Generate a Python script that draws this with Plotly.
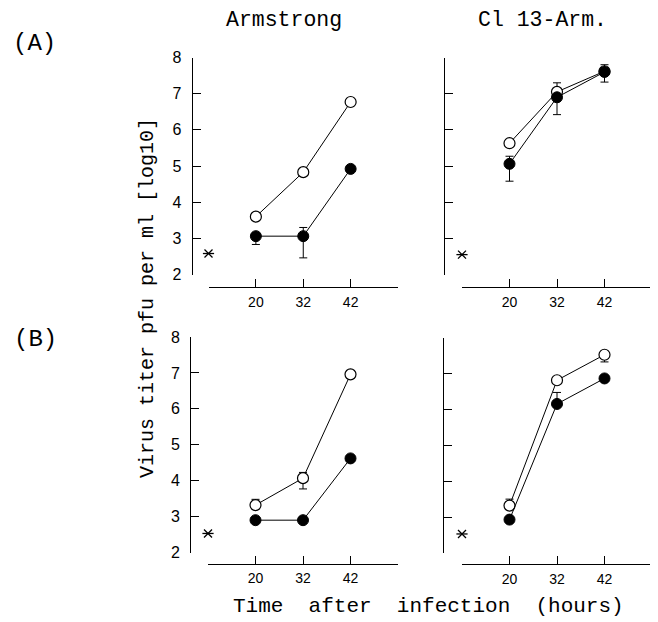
import plotly.graph_objects as go

# page offset of the plot inside the browser window (default body margin)
OFF = 8
W, H = 658 - OFF, 622 - OFF

# ---------------- data ----------------
hours = [20, 32, 42]
tick_labels = ["", "20", "32", "42", ""]

# (A) Armstrong
a_arm_open = [3.60, 4.83, 6.77]
a_arm_open_up = [0, 0, 0]
a_arm_open_dn = [0, 0, 0]
a_arm_fill = [3.06, 3.06, 4.92]
a_arm_fill_up = [0, 0.24, 0]
a_arm_fill_dn = [0.23, 0.60, 0]

# (A) Cl 13-Arm.
a_cl_open = [5.63, 7.05, 7.62]
a_cl_open_up = [0, 0.25, 0]
a_cl_open_dn = [0, 0, 0]
a_cl_fill = [5.06, 6.90, 7.60]
a_cl_fill_up = [0.21, 0, 0.20]
a_cl_fill_dn = [0.48, 0.48, 0.28]

# (B) Armstrong
b_arm_open = [3.32, 4.07, 6.96]
b_arm_open_up = [0.16, 0.16, 0]
b_arm_open_dn = [0, 0.30, 0]
b_arm_fill = [2.90, 2.90, 4.62]
b_arm_fill_up = [0, 0, 0]
b_arm_fill_dn = [0, 0, 0]

# (B) Cl 13-Arm.
b_cl_open = [3.32, 6.81, 7.52]
b_cl_open_up = [0.18, 0, 0]
b_cl_open_dn = [0, 0, 0.20]
b_cl_fill = [2.93, 6.15, 6.86]
b_cl_fill_up = [0, 0.32, 0]
b_cl_fill_dn = [0, 0, 0]

# detection-limit asterisks (plotted at the axis start)
asterisk_y = [2.58, 2.55, 2.53, 2.53]

panel_titles = ["Armstrong", "Cl 13-Arm."]
row_labels = ["(A)", "(B)"]
y_title = "Virus titer pfu per ml [log10]"
x_title = "Time\u00a0\u00a0after\u00a0\u00a0infection\u00a0\u00a0(hours)"

# ---------------- layout helpers ----------------
def px(x):
    return (x - OFF) / W

def py(y):
    return 1 - (y - OFF) / H

pos = [i + 1 for i, _ in enumerate(hours)]

# panel geometry in window pixels: (x0, x1, yaxis_x, ytop, ybottom, xaxis_y)
panels = [
    (208.5, 398.0, 191.5, 57.5, 274.5, 287.0),
    (462.0, 652.0, 443.5, 57.5, 274.5, 287.0),
    (208.0, 398.0, 190.0, 337.0, 552.5, 563.5),
    (462.0, 652.0, 442.5, 337.5, 553.0, 564.0),
]

series = [
    (a_arm_open, a_arm_open_up, a_arm_open_dn, a_arm_fill, a_arm_fill_up, a_arm_fill_dn),
    (a_cl_open, a_cl_open_up, a_cl_open_dn, a_cl_fill, a_cl_fill_up, a_cl_fill_dn),
    (b_arm_open, b_arm_open_up, b_arm_open_dn, b_arm_fill, b_arm_fill_up, b_arm_fill_dn),
    (b_cl_open, b_cl_open_up, b_cl_open_dn, b_cl_fill, b_cl_fill_up, b_cl_fill_dn),
]

fig = go.Figure()
layout = dict(
    width=W, height=H,
    margin=dict(l=0, r=0, t=0, b=0, pad=0, autoexpand=False),
    paper_bgcolor="white", plot_bgcolor="white",
    showlegend=False,
)

for i, (geo, ser) in enumerate(zip(panels, series)):
    n = "" if i == 0 else str(i + 1)
    xa, ya = "x" + n, "y" + n
    x0, x1, yx, yt, yb, xy = geo
    op, op_up, op_dn, fl, fl_up, fl_dn = ser

    fig.add_trace(go.Scatter(
        x=pos, y=op, xaxis=xa, yaxis=ya, mode="lines+markers",
        line=dict(color="black", width=1),
        marker=dict(symbol="circle", size=11, color="white",
                    line=dict(color="black", width=1.2)),
        error_y=dict(type="data", symmetric=False, array=op_up, arrayminus=op_dn,
                     color="black", thickness=1, width=4),
        cliponaxis=False,
    ))
    fig.add_trace(go.Scatter(
        x=pos, y=fl, xaxis=xa, yaxis=ya, mode="lines+markers",
        line=dict(color="black", width=1),
        marker=dict(symbol="circle", size=11, color="black",
                    line=dict(color="black", width=1)),
        error_y=dict(type="data", symmetric=False, array=fl_up, arrayminus=fl_dn,
                     color="black", thickness=1, width=4),
        cliponaxis=False,
    ))
    for sym in ["x-thin-open", "line-ew-open"]:
        fig.add_trace(go.Scatter(
            x=[0], y=[asterisk_y[i]], xaxis=xa, yaxis=ya, mode="markers",
            marker=dict(symbol=sym, size=8, color="black",
                        line=dict(color="black", width=1.3)),
            cliponaxis=False,
        ))

    layout["xaxis" + n] = dict(
        domain=[px(x0), px(x1)], range=[0, 4], anchor="free", position=py(xy),
        tickmode="array", tickvals=[0] + pos + [4], ticktext=tick_labels,
        ticks="inside", ticklen=8, tickwidth=1, tickcolor="black",
        showline=True, linecolor="black", linewidth=1,
        showgrid=False, zeroline=False, automargin=False,
        tickfont=dict(family="Liberation Sans, Arial", size=14, color="black"),
        ticklabelstandoff=2,
    )
    layout["yaxis" + n] = dict(
        domain=[py(yb), py(yt)], range=[2, 8], anchor="free", position=px(yx),
        tickmode="array", tickvals=[2, 3, 4, 5, 6, 7, 8],
        ticks="inside", ticklen=8, tickwidth=1, tickcolor="black",
        showline=True, linecolor="black", linewidth=1,
        showgrid=False, zeroline=False, automargin=False,
        showticklabels=(i % 2 == 0),
        tickfont=dict(family="Liberation Sans, Arial", size=16, color="black"),
        ticklabelstandoff=7,
    )

mono = "Liberation Mono, Courier New, monospace"
annotations = [
    dict(text=panel_titles[0], x=px(284), y=py(20), font=dict(family=mono, size=21.5)),
    dict(text=panel_titles[1], x=px(542.5), y=py(20), font=dict(family=mono, size=21.5)),
    dict(text=row_labels[0], x=px(34), y=py(43), font=dict(family=mono, size=24)),
    dict(text=row_labels[1], x=px(35), y=py(339), font=dict(family=mono, size=24)),
    dict(text=y_title, x=px(147), y=py(298), textangle=-90, font=dict(family=mono, size=20)),
    dict(text=x_title, x=px(428), y=py(606), font=dict(family=mono, size=21)),
]
for a in annotations:
    a.update(xref="paper", yref="paper", showarrow=False,
             xanchor="center", yanchor="middle")
    a["font"]["color"] = "black"
layout["annotations"] = annotations

fig.update_layout(**layout)
fig.write_html("out.html")
